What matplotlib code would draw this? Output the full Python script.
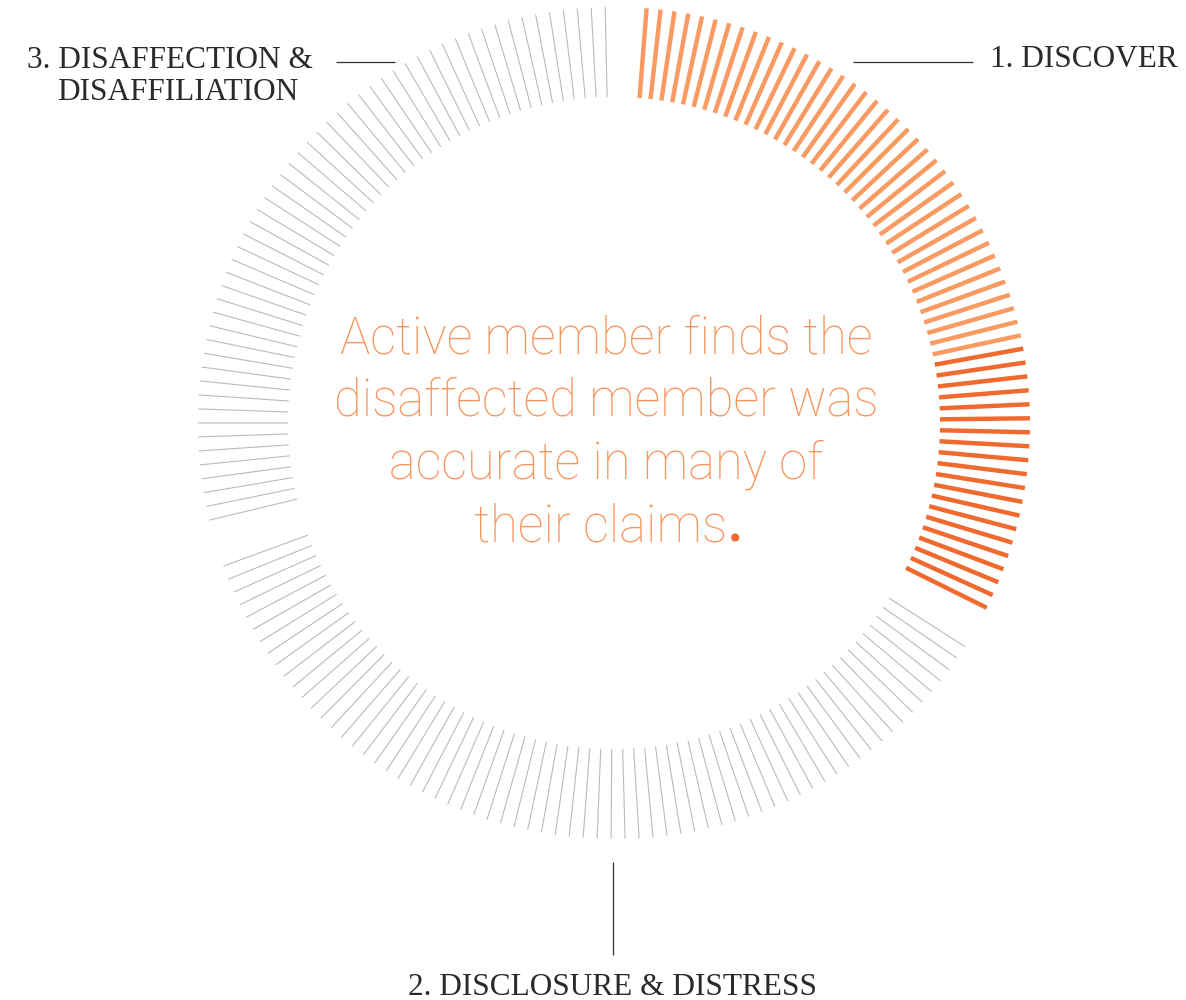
import numpy as np
import matplotlib
matplotlib.use("Agg")
import matplotlib.pyplot as plt

# ---- data ----
segment_names = ["Discover (early)", "Discover (late)", "Disclosure & Distress", "Disaffection & Disaffiliation"]
segment_counts = [39, 20, 67, 54]
stage_labels = ["1. DISCOVER", "2. DISCLOSURE & DISTRESS", "3. DISAFFECTION &\nDISAFFILIATION"]
center_lines = ["Active member finds the", "disaffected member was", "accurate in many of", "their claims"]
center_end = "."

# ---- layout / style ----
W, H = 1186, 1000
cx, cy = 614, 423
R_out, R_in = 416, 326
step = 1.93
seg_start = [4.5, 79.7, 122.5, 256.5]
colors = ["#F99A62", "#EF6A2F", "#BABABA", "#BABABA"]
lws = [3.2, 3.2, 0.8, 0.8]
light_orange = "#F7955C"
dark_orange = "#EF6A2F"
ink = "#2a2a2a"

fig = plt.figure(figsize=(W / 100, H / 100), dpi=100)
ax_rad = 440
pol = fig.add_axes([(cx - ax_rad) / W, (H - cy - ax_rad) / H, 2 * ax_rad / W, 2 * ax_rad / H],
                   projection='polar')
pol.set_theta_zero_location('N')
pol.set_theta_direction(-1)
pol.set_ylim(0, ax_rad)
pol.axis('off')
for n, s, c, lw in zip(segment_counts, seg_start, colors, lws):
    ang = np.deg2rad(s + step * np.arange(n))
    pol.vlines(ang, R_in, R_out, colors=c, linewidth=lw, capstyle='butt')

ov = fig.add_axes([0, 0, 1, 1])
ov.set_xlim(0, W)
ov.set_ylim(H, 0)
ov.axis('off')
ov.patch.set_alpha(0)

# leader lines
ov.plot([853, 973], [62, 62], color='#333333', lw=0.9, solid_capstyle='butt')
ov.plot([336, 395], [62, 62], color='#333333', lw=0.9, solid_capstyle='butt')
ov.plot([613, 613], [862, 955], color='#333333', lw=0.9, solid_capstyle='butt')

serif = ['Liberation Serif', 'DejaVu Serif']
lab_size = 22.5
ov.text(990, 67, stage_labels[0], family=serif, fontsize=lab_size, color=ink, ha='left', va='baseline')
ov.text(612, 995, stage_labels[1], family=serif, fontsize=lab_size, color=ink, ha='center', va='baseline')
l3a, l3b = stage_labels[2].split("\n")
ov.text(170, 68, l3a, family=serif, fontsize=lab_size, color=ink, ha='center', va='baseline')
ov.text(178, 100, l3b, family=serif, fontsize=lab_size, color=ink, ha='center', va='baseline')

# center text
sans = ['Roboto', 'DejaVu Sans']
fs = 36.5
baselines = [354, 416, 478, 541]
last = None
for i, (line, yb) in enumerate(zip(center_lines, baselines)):
    x = 606 if i < 3 else 601
    last = ov.text(x, yb, line, family=sans, fontweight='light', fontsize=fs,
                   color=light_orange, ha='center', va='baseline')
ov.annotate(center_end, xy=(1, 0), xycoords=last, ha='left', va='bottom',
            family=sans, fontweight='bold', fontsize=fs, color=dark_orange)

fig.savefig("out.png", dpi=100, facecolor='white')
